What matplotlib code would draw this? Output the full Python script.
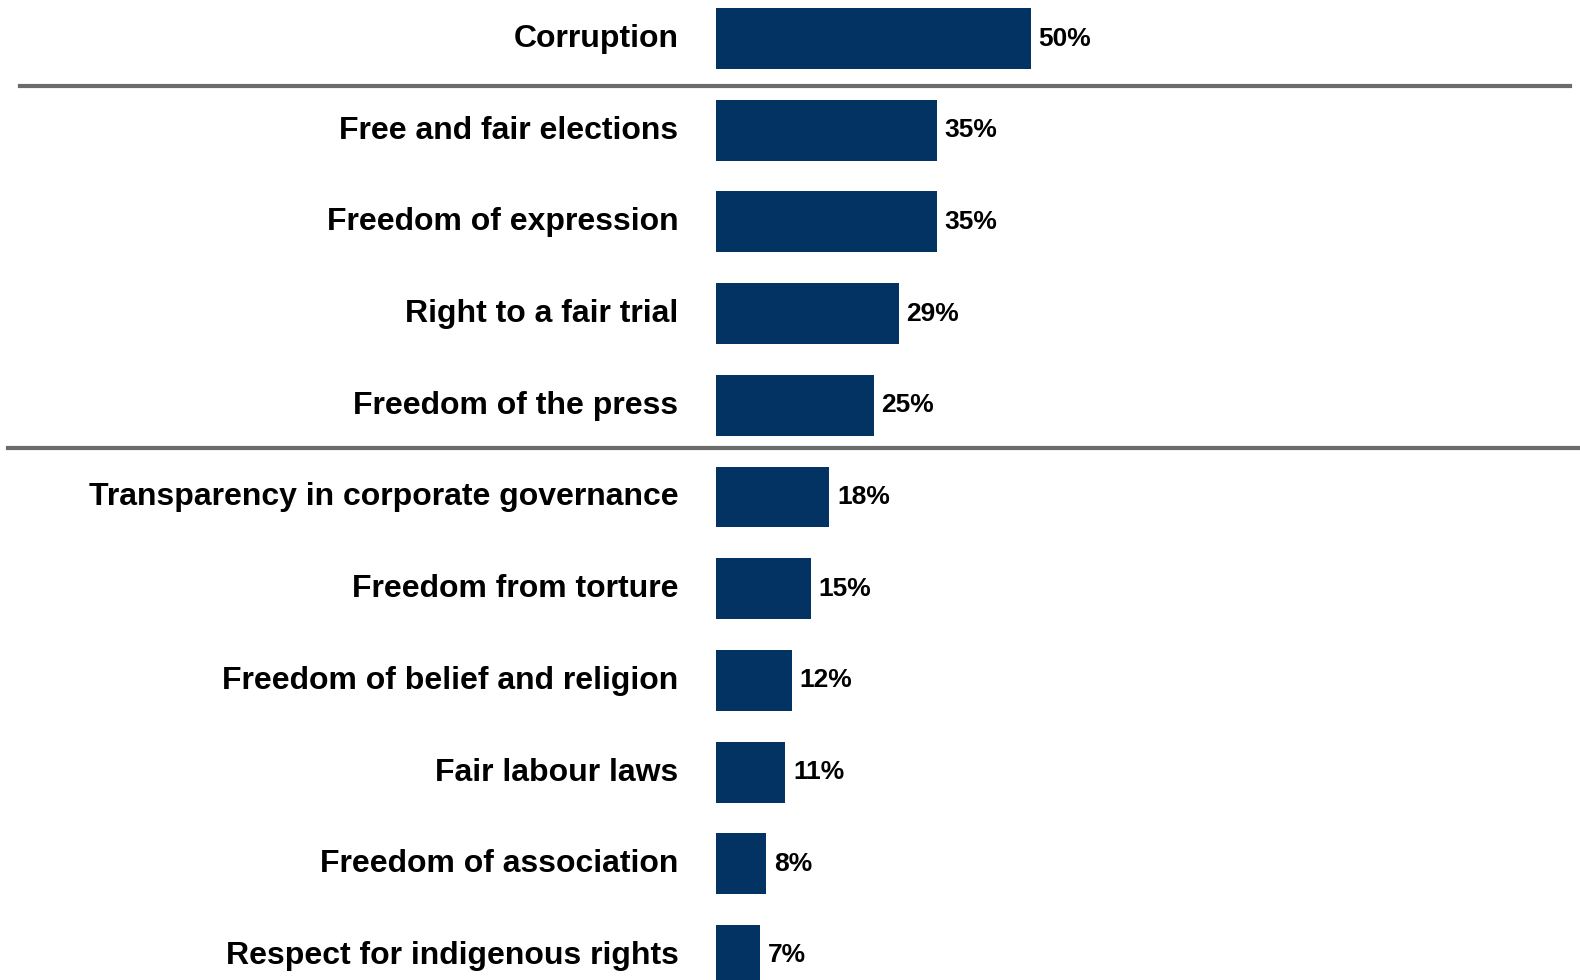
import matplotlib
matplotlib.use("Agg")
import matplotlib.pyplot as plt
from matplotlib.transforms import ScaledTranslation

categories = [
    "Corruption",
    "Free and fair elections",
    "Freedom of expression",
    "Right to a fair trial",
    "Freedom of the press",
    "Transparency in corporate governance",
    "Freedom from torture",
    "Freedom of belief and religion",
    "Fair labour laws",
    "Freedom of association",
    "Respect for indigenous rights",
]
values = [50, 35, 35, 29, 25, 18, 15, 12, 11, 8, 7]
# groups end after these rows; a divider is drawn below each
group_breaks = [0, 4]

BAR_COLOR = "#033363"
RULE_COLOR = "#6b6b6b"
plt.rcParams["font.family"] = ["Liberation Sans", "DejaVu Sans"]

W, H, DPI = 1580, 980, 100
fig = plt.figure(figsize=(W / DPI, H / DPI), dpi=DPI, facecolor="white")

x0_px = 716          # where bars start
px_per_unit = 6.3    # pixels per percentage point
row_px = 91.7
first_px = 38.5

ax = fig.add_axes([x0_px / W, 0, 1 - x0_px / W, 1])
ax.set_xlim(0, (W - x0_px) / px_per_unit)
ax.set_ylim((H - first_px) / row_px, -first_px / row_px)

pos = list(range(len(categories)))
ax.barh(pos, values, height=0.665, color=BAR_COLOR)

for y, v in zip(pos, values):
    ax.annotate(f"{v}%", (v, y), xytext=(5.5, 0), textcoords="offset points",
                ha="left", va="center", fontsize=19, fontweight="bold")

ax.set_yticks(pos)
ax.set_yticklabels(categories, fontsize=23, fontweight="bold")
ax.tick_params(axis="y", length=0, pad=27)
# nudge the category names up a little so they sit level with the bars
lift = ScaledTranslation(0, 3 / DPI, fig.dpi_scale_trans)
for lab in ax.get_yticklabels():
    lab.set_transform(lab.get_transform() + lift)
ax.set_xticks([])
for s in ax.spines.values():
    s.set_visible(False)

# dividers between groups, running out past the axes on the left
rule_spans = [(20, 1570, 0.52), (8, 1580, 0.47)]
width = W - x0_px
for b, (l, r, gap) in zip(group_breaks, rule_spans):
    ax.axhline(b + gap, xmin=(l - x0_px) / width, xmax=(r - x0_px) / width,
               color=RULE_COLOR, lw=3, clip_on=False)

fig.savefig("out.png", dpi=DPI, facecolor="white")
